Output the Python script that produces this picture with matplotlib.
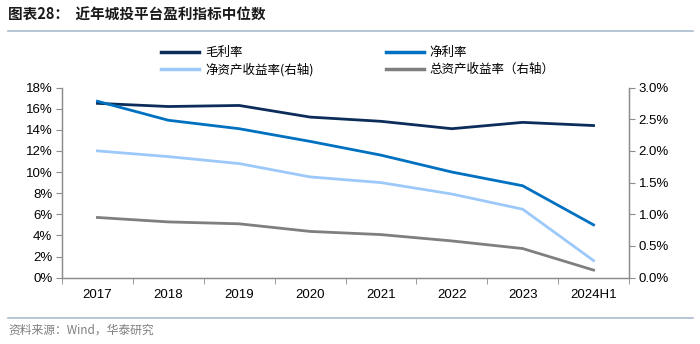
import matplotlib.pyplot as plt
from matplotlib.lines import Line2D
from matplotlib.ticker import FuncFormatter, MultipleLocator, FixedLocator

plt.rcParams['font.family'] = ['Liberation Sans', 'Noto Sans CJK SC', 'DejaVu Sans']

years = ['2017', '2018', '2019', '2020', '2021', '2022', '2023', '2024H1']
gross_margin = [16.5, 16.2, 16.3, 15.2, 14.8, 14.1, 14.7, 14.4]      # left axis, %
net_margin = [16.7, 14.9, 14.1, 12.9, 11.6, 10.0, 8.7, 5.0]          # left axis, %
roe = [2.00, 1.91, 1.80, 1.59, 1.50, 1.32, 1.08, 0.27]               # right axis, %
roa = [0.95, 0.88, 0.85, 0.73, 0.68, 0.58, 0.46, 0.12]               # right axis, %

c_gross = '#0C2C5A'
c_net = '#0070C0'
c_roe = '#9DC9FA'
c_roa = '#7F7F7F'
axis_c = '#8C8C8C'

fig = plt.figure(figsize=(7.0, 3.44), dpi=100)
ax = fig.add_axes([62 / 700, 1 - 277.7 / 344, (629 - 62) / 700, (277.7 - 87.5) / 344])
ax2 = ax.twinx()

x = list(range(len(years)))
ax.plot(x, gross_margin, color=c_gross, lw=2.0, zorder=3)
ax.plot(x, net_margin, color=c_net, lw=2.0, zorder=3)
ax2.plot(x, roe, color=c_roe, lw=2.0)
ax2.plot(x, roa, color=c_roa, lw=2.0)

ax.set_xlim(-0.5, len(years) - 0.5)
ax.set_ylim(0, 18)
ax2.set_ylim(0, 3.0)
ax.yaxis.set_major_locator(MultipleLocator(2))
ax2.yaxis.set_major_locator(MultipleLocator(0.5))
ax.yaxis.set_major_formatter(FuncFormatter(lambda v, p: f'{v:.0f}%'))
ax2.yaxis.set_major_formatter(FuncFormatter(lambda v, p: f'{v:.1f}%'))

ax.set_xticks(x)
ax.set_xticklabels(years)
ax.xaxis.set_minor_locator(FixedLocator([i - 0.5 for i in range(len(years) + 1)]))
ax.tick_params(axis='x', which='major', length=0, pad=8, labelsize=9.5)
ax.tick_params(axis='x', which='minor', length=4, color=axis_c, direction='out')
ax.tick_params(axis='y', length=4, color=axis_c, labelsize=9.5, pad=3)
ax2.tick_params(axis='y', length=4, color=axis_c, labelsize=9.5, pad=3)

for a in (ax, ax2):
    a.spines['top'].set_visible(False)
    for s in ('left', 'right', 'bottom'):
        a.spines[s].set_color(axis_c)
        a.spines[s].set_linewidth(0.9)

# legend fills column-first, so order gives rows: 毛利率/净利率, ROE/ROA
handles = [Line2D([], [], color=c_gross, lw=2.5),
           Line2D([], [], color=c_roe, lw=2.5),
           Line2D([], [], color=c_net, lw=2.5),
           Line2D([], [], color=c_roa, lw=2.5)]
labels = ['毛利率', '净资产收益率(右轴)', '净利率', '总资产收益率（右轴）']
fig.legend(handles, labels, ncol=2, loc='upper left', bbox_to_anchor=(150 / 700, 1 - 35 / 344),
           frameon=False, handlelength=3.0, handletextpad=0.5,
           columnspacing=5.8, labelspacing=0.3, prop={'family': ['Noto Sans CJK SC'], 'size': 9})

fig.text(8 / 700, 1 - 15 / 344, '图表28：  近年城投平台盈利指标中位数', fontsize=10.5, fontweight='bold',
         va='center', ha='left', family=['Noto Sans CJK SC'], color='#1a1a1a')
fig.add_artist(Line2D([8 / 700, 693 / 700], [1 - 31 / 344, 1 - 31 / 344], color='#A9BCD0', lw=1.2))
fig.add_artist(Line2D([8 / 700, 693 / 700], [1 - 318 / 344, 1 - 318 / 344], color='#A9BCD0', lw=1.2))
fig.text(8 / 700, 1 - 330 / 344, '资料来源：Wind，华泰研究', fontsize=8.5, va='center', ha='left',
         family=['Noto Sans CJK SC'], color='#7F7F7F')

fig.savefig('out.png', dpi=100)
